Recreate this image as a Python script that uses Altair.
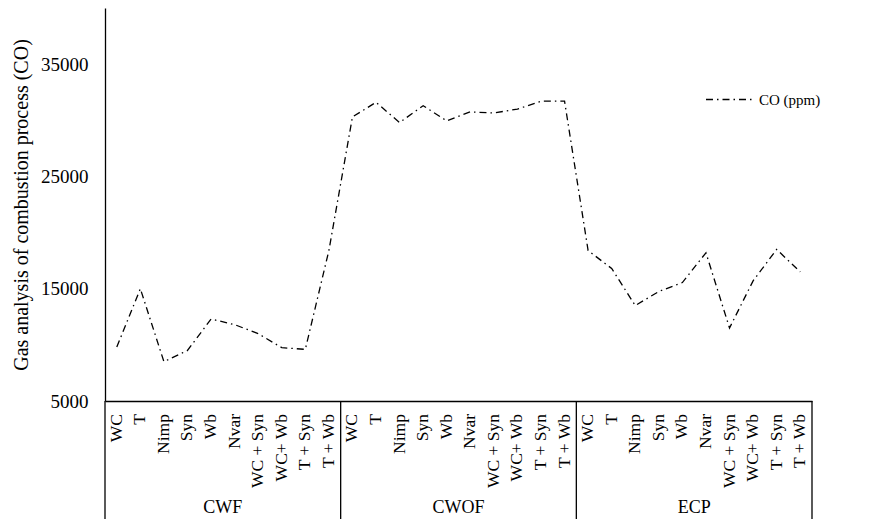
import altair as alt
import pandas as pd

groups = ["CWF", "CWOF", "ECP"]
categories = ["WC", "T", "Nimp", "Syn", "Wb", "Nvar", "WC + Syn", "WC+ Wb", "T + Syn", "T + Wb"]
co_cwf = [9800, 15000, 8500, 9500, 12300, 11800, 11000, 9750, 9600, 18400]
co_cwof = [30300, 31600, 29800, 31300, 29950, 30750, 30650, 31000, 31700, 31700]
co_ecp = [18400, 16800, 13500, 14750, 15550, 18200, 11500, 15700, 18500, 16500]
series_name = "CO (ppm)"
y_title = "Gas analysis of combustion process (CO)"
y_ticks = [5000, 15000, 25000, 35000]

rows = []
for gi, (g, vals) in enumerate(zip(groups, [co_cwf, co_cwof, co_ecp])):
    for ci, (c, v) in enumerate(zip(categories, vals)):
        rows.append({"idx": gi * len(categories) + ci, "cat": c, "group": g,
                     "co": v, "series": series_name})
df = pd.DataFrame(rows)

n = len(categories)
bounds = pd.DataFrame({"b": [i * n - 0.5 for i in range(len(groups) + 1)]})
centers = pd.DataFrame({"c": [i * n + (n - 1) / 2 for i in range(len(groups))], "g": groups})

W, H = 707, 393
FONT = "Liberation Serif"
xscale = alt.Scale(domain=[-0.5, len(df) - 0.5], nice=False, zero=False)

line = alt.Chart(df).mark_line(color="black", strokeWidth=1.3).encode(
    x=alt.X("idx:Q", scale=xscale,
            axis=alt.Axis(labels=False, ticks=False, grid=False, domain=True,
                          domainColor="black", domainWidth=1.3, title=None)),
    y=alt.Y("co:Q", scale=alt.Scale(domain=[5000, 40000], nice=False, zero=False),
            axis=alt.Axis(values=y_ticks, ticks=False, grid=False, domainColor="black",
                          domainWidth=1.3, labelPadding=17, format="d",
                          title=y_title, titlePadding=9)),
    strokeDash=alt.StrokeDash("series:N",
                              scale=alt.Scale(domain=[series_name], range=[[7, 4, 1.5, 4]]),
                              legend=alt.Legend(title=None, orient="none", legendX=600, legendY=67,
                                                symbolType="stroke", symbolSize=2209,
                                                symbolStrokeColor="black", symbolStrokeWidth=1.3,
                                                labelFont=FONT, labelFontSize=15, labelColor="black",
                                                labelOffset=5, padding=0)),
)

labels = alt.Chart(df).mark_text(angle=270, align="right", baseline="middle",
                                 font=FONT, fontSize=17.5, color="black").encode(
    x=alt.X("idx:Q", scale=xscale),
    y=alt.value(H + 13),
    text="cat:N",
)

seps = alt.Chart(bounds).mark_rule(color="black", strokeWidth=1.3).encode(
    x=alt.X("b:Q", scale=xscale),
    y=alt.value(H),
    y2=alt.value(H + 118),
)

grp = alt.Chart(centers).mark_text(align="center", baseline="middle",
                                   font=FONT, fontSize=18, color="black").encode(
    x=alt.X("c:Q", scale=xscale),
    y=alt.value(H + 107),
    text="g:N",
)

chart = alt.layer(line, labels, seps, grp).properties(
    width=W, height=H,
    padding={"left": 97, "top": 0, "right": 54, "bottom": 120},
    autosize=alt.AutoSizeParams(type="none"),
).configure_view(stroke=None).configure_axis(
    labelFont=FONT, labelFontSize=19, labelColor="black",
    titleFont=FONT, titleFontSize=20, titleFontWeight="normal", titleColor="black",
)

chart.save("out.html", embed_options={"renderer": "svg", "actions": False})
